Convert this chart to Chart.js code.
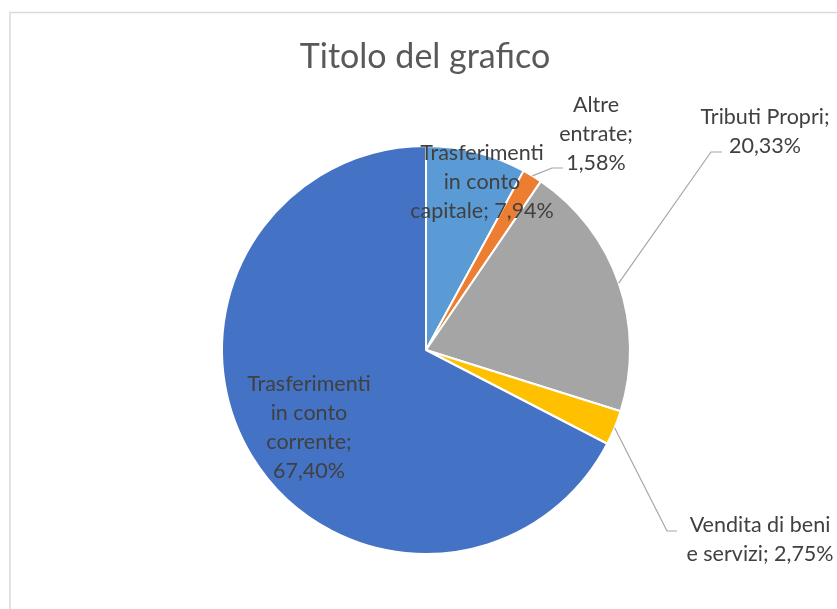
<!DOCTYPE html>
<html>
<head>
<meta charset="utf-8">
<script src="https://cdn.jsdelivr.net/npm/chart.js@4.4.1/dist/chart.umd.min.js"></script>
<style>
html,body{margin:0;padding:0;background:#fff;}
#wrap{position:relative;width:837px;height:609px;overflow:hidden;}
canvas{display:block;}
</style>
</head>
<body>
<div id="wrap"><canvas id="c" width="837" height="609"></canvas></div>
<script>
const title = "Titolo del grafico";
const categories = ["Trasferimenti in conto capitale", "Altre entrate", "Tributi Propri", "Vendita di beni e servizi", "Trasferimenti in conto corrente"];
const values = [7.94, 1.58, 20.33, 2.75, 67.40];
const colors = ["#5B9BD5", "#ED7D31", "#A5A5A5", "#FFC000", "#4472C4"];

// label text lines (category text split as in the picture; value appended)
const labelLines = [
  ["Trasferimenti", "in conto", "capitale; {v}"],
  ["Altre", "entrate;", "{v}"],
  ["Tributi Propri;", "{v}"],
  ["Vendita di beni", "e servizi; {v}"],
  ["Trasferimenti", "in conto", "corrente;", "{v}"]
];
// label layout: text centre offset from pie centre (px), leader line elbow
const labelLayout = [
  {dx: 56, dy: -168, leader: null},
  {dx: 170, dy: -216, leader: {ex: 552, ey: 168, hx: 563}},
  {dx: 339, dy: -218, leader: {ex: 711, ey: 152, hx: 722}},
  {dx: 334, dy: 190, leader: {ex: 667, ey: 531, hx: 677}},
  {dx: -117, dy: 78, leader: null}
];

const FONT = "Lato, 'Open Sans', sans-serif";
const TEXT = "#404040";
const fmt = v => v.toFixed(2).replace('.', ',') + '%';

const decor = {
  id: 'decor',
  beforeDraw(chart) {
    const ctx = chart.ctx;
    ctx.save();
    ctx.strokeStyle = '#D9D9D9';
    ctx.lineWidth = 1.5;
    ctx.beginPath();
    ctx.moveTo(10, 700);
    ctx.lineTo(10, 12.5);
    ctx.lineTo(900, 12.5);
    ctx.stroke();
    ctx.restore();
  },
  afterDatasetsDraw(chart) {
    const ctx = chart.ctx;
    const meta = chart.getDatasetMeta(0);
    ctx.save();
    // title
    ctx.fillStyle = '#595959';
    ctx.font = '34px ' + FONT;
    ctx.textAlign = 'center';
    ctx.textBaseline = 'middle';
    ctx.fillText(title, 425, 57);

    ctx.font = '21.5px ' + FONT;
    meta.data.forEach((arc, i) => {
      const cx = arc.x, cy = arc.y;
      const lay = labelLayout[i];
      if (lay.leader) {
        const mid = (arc.startAngle + arc.endAngle) / 2;
        const sx = cx + Math.cos(mid) * arc.outerRadius;
        const sy = cy + Math.sin(mid) * arc.outerRadius;
        ctx.strokeStyle = '#A6A6A6';
        ctx.lineWidth = 1.2;
        ctx.beginPath();
        ctx.moveTo(sx, sy);
        ctx.lineTo(lay.leader.ex, lay.leader.ey);
        ctx.lineTo(lay.leader.hx, lay.leader.ey);
        ctx.stroke();
      }
      const lines = labelLines[i].map(s => s.replace('{v}', fmt(values[i])));
      const lh = 29;
      const x0 = cx + lay.dx;
      const y0 = cy + lay.dy - (lines.length - 1) * lh / 2;
      ctx.fillStyle = TEXT;
      ctx.textAlign = 'center';
      ctx.textBaseline = 'middle';
      lines.forEach((ln, k) => ctx.fillText(ln, x0, y0 + k * lh));
    });
    ctx.restore();
  }
};

new Chart(document.getElementById('c'), {
  type: 'pie',
  data: {
    labels: categories,
    datasets: [{
      data: values,
      backgroundColor: colors,
      borderColor: '#FFFFFF',
      borderWidth: 2
    }]
  },
  options: {
    responsive: false,
    animation: false,
    events: [],
    layout: {padding: {left: 221, right: 206, top: 145, bottom: 54}},
    plugins: {
      legend: {display: false},
      tooltip: {enabled: false},
      title: {display: false}
    }
  },
  plugins: [decor]
});
</script>
</body>
</html>
